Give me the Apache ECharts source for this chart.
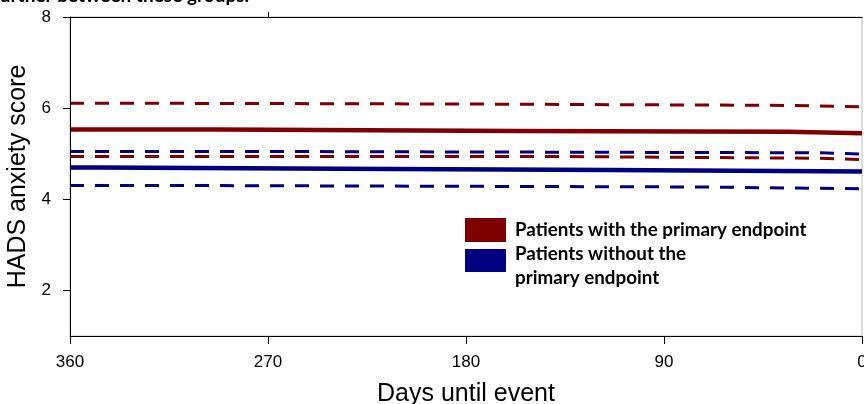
<!DOCTYPE html>
<html>
<head>
<meta charset="utf-8">
<script src="https://cdn.jsdelivr.net/npm/echarts@6/dist/echarts.min.js"></script>
<style>
html,body{margin:0;padding:0;background:#fff;}
#chart{width:864px;height:404px;}
</style>
</head>
<body>
<div id="chart"></div>
<script>
// ---- data (days until event, HADS anxiety score; step curves) ----
const xTicks = [360, 270, 180, 90, 0];
const yTicks = [2, 4, 6, 8];

const withSolidDays = [360, 293, 157, 34, 0];
const withSolidVals = [5.53, 5.50, 5.48, 5.45, 5.45];
const withUpperDays = [360, 350, 178, 32, 0];
const withUpperVals = [6.11, 6.09, 6.06, 6.03, 6.03];
const withLowerDays = [360, 141, 19, 0];
const withLowerVals = [4.94, 4.90, 4.87, 4.87];

const withoutSolidDays = [360, 347, 238, 115, 0];
const withoutSolidVals = [4.70, 4.67, 4.64, 4.61, 4.61];
const withoutUpperDays = [360, 280, 19, 0];
const withoutUpperVals = [5.05, 5.02, 4.99, 4.99];
const withoutLowerDays = [360, 291, 73, 0];
const withoutLowerVals = [4.30, 4.27, 4.23, 4.23];

const legendLabels = ['Patients with the primary endpoint', 'Patients without the\nprimary endpoint'];
const topText = 'further between these groups.';

const RED = '#7f0000';
const BLUE = '#000080';

function pairs(d, v) { return d.map((x, i) => [x, v[i]]); }

function solid(name, d, v, c) {
  return { name, type: 'line', step: 'end', data: pairs(d, v), symbol: 'none',
    lineStyle: { color: c, width: 4.5, type: 'solid', cap: 'butt', join: 'miter' }, silent: true, animation: false };
}
function dashed(name, d, v, c) {
  return { name, type: 'line', step: 'end', data: pairs(d, v), symbol: 'none',
    lineStyle: { color: c, width: 3, type: [14, 11] }, silent: true, animation: false };
}

const chart = echarts.init(document.getElementById('chart'), null, { renderer: 'canvas' });
const axisFont = 'Liberation Sans, Arial, sans-serif';

chart.setOption({
  backgroundColor: '#fff',
  animation: false,
  grid: { left: 70, right: 2, top: 17, bottom: 68, containLabel: false, outerBoundsMode: 'none',
    show: true, borderColor: '#bbb', borderWidth: 1, backgroundColor: 'transparent', z: -1 },
  xAxis: [{
    type: 'value', inverse: true, min: 0, max: 360, interval: 90, z: 5,
    axisLine: { show: true, onZero: false, lineStyle: { color: '#000', width: 1 } },
    axisTick: { show: true, length: 8, lineStyle: { color: '#000' } },
    axisLabel: { show: true, color: '#000', fontSize: 17, fontFamily: axisFont, margin: 18,
      formatter: v => xTicks.includes(v) ? String(v) : '' },
    splitLine: { show: false },
    name: 'Days until event', nameLocation: 'middle', nameGap: 46,
    nameTextStyle: { color: '#000', fontSize: 25, fontFamily: axisFont }
  }, {
    type: 'value', inverse: true, min: 0, max: 360, position: 'top', z: 5,
    axisLine: { show: true, onZero: false, lineStyle: { color: '#000', width: 1 } },
    axisTick: { show: true, length: 5, customValues: [270], lineStyle: { color: '#000' } },
    axisLabel: { show: false }, splitLine: { show: false }
  }],
  yAxis: [{
    type: 'value', min: 1, max: 8, z: 5, position: 'left',
    axisLine: { show: true, onZero: false, lineStyle: { color: '#000', width: 1 } },
    axisTick: { show: true, length: 7, customValues: yTicks, lineStyle: { color: '#000', width: 1 } },
    axisLabel: { show: true, color: '#000', fontSize: 17, fontFamily: axisFont, margin: 19, customValues: yTicks },
    splitLine: { show: false },
    name: 'HADS anxiety score', nameLocation: 'middle', nameGap: 33, nameRotate: 90,
    nameTextStyle: { color: '#000', fontSize: 25, fontFamily: axisFont }
  }],
  series: [
    dashed('with upper', withUpperDays, withUpperVals, RED),
    solid(legendLabels[0], withSolidDays, withSolidVals, RED),
    dashed('without upper', withoutUpperDays, withoutUpperVals, BLUE),
    dashed('with lower', withLowerDays, withLowerVals, RED),
    solid(legendLabels[1], withoutSolidDays, withoutSolidVals, BLUE),
    dashed('without lower', withoutLowerDays, withoutLowerVals, BLUE)
  ],
  graphic: [
    { type: 'text', x: -7, y: -14, silent: true,
      style: { text: topText, fill: '#000', font: 'bold 19px Lato, sans-serif' } },
    { type: 'rect', shape: { x: 465, y: 218, width: 41, height: 24 }, silent: true,
      style: { fill: RED } },
    { type: 'rect', shape: { x: 465, y: 249, width: 41, height: 23 }, silent: true,
      style: { fill: BLUE } },
    { type: 'text', x: 515, y: 230, silent: true,
      style: { text: legendLabels[0], fill: '#000', font: 'bold 18.8px Lato, sans-serif', verticalAlign: 'middle' } },
    { type: 'text', x: 515, y: 242, silent: true,
      style: { text: legendLabels[1], fill: '#000', font: 'bold 18.8px Lato, sans-serif', verticalAlign: 'top', lineHeight: 24 } }
  ]
});
</script>
</body>
</html>
